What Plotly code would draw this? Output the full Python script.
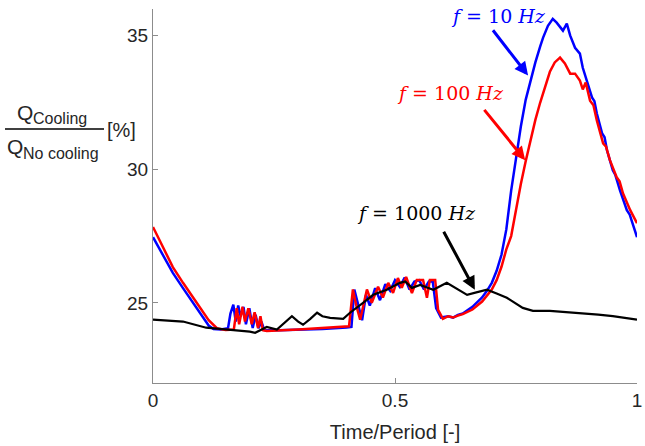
import plotly.graph_objects as go

# ---- data ----
t_10 = [0.000, 0.020, 0.041, 0.062, 0.083, 0.100, 0.115, 0.125, 0.140, 0.155,
        0.160, 0.166, 0.171, 0.176, 0.181, 0.187, 0.192, 0.199, 0.206, 0.212,
        0.218, 0.224, 0.230, 0.260, 0.300, 0.350, 0.400, 0.410, 0.416, 0.424,
        0.432, 0.440, 0.448, 0.459, 0.469, 0.480, 0.490, 0.500, 0.510, 0.520,
        0.530, 0.540, 0.550, 0.560, 0.570, 0.578, 0.585, 0.595, 0.610, 0.620,
        0.630, 0.640, 0.660, 0.680, 0.690, 0.700, 0.710, 0.720, 0.730, 0.740,
        0.750, 0.760, 0.770, 0.780, 0.790, 0.800, 0.806, 0.816, 0.826, 0.834,
        0.840, 0.847, 0.855, 0.862, 0.872, 0.882, 0.888, 0.896, 0.907, 0.912,
        0.917, 0.928, 0.933, 0.938, 0.950, 0.955, 0.965, 0.979, 0.985, 1.000]
q_10 = [27.46, 26.80, 26.12, 25.55, 25.00, 24.55, 24.15, 24.02, 24.00, 24.05,
        24.60, 24.93, 24.30, 24.90, 24.50, 24.85, 24.20, 24.80, 24.06, 24.55,
        24.05, 24.30, 23.98, 23.97, 23.98, 24.02, 24.08, 24.10, 25.50, 24.90,
        24.35, 25.30, 24.90, 25.55, 25.10, 25.70, 25.45, 25.85, 25.60, 25.95,
        25.50, 25.80, 25.85, 25.50, 25.80, 25.80, 24.80, 24.45, 24.50, 24.45,
        24.55, 24.60, 24.85, 25.20, 25.45, 25.75, 26.20, 26.80, 27.75, 29.20,
        30.40, 31.60, 32.60, 33.35, 34.00, 34.60, 34.93, 35.37, 35.63, 35.49,
        35.35, 35.19, 35.45, 35.00, 34.55, 34.33, 33.80, 33.32, 32.69, 32.55,
        32.09, 31.34, 31.20, 30.71, 29.96, 29.80, 29.20, 28.47, 28.30, 27.46]

t_100 = [0.000, 0.020, 0.041, 0.062, 0.083, 0.100, 0.115, 0.132, 0.150, 0.167,
         0.173, 0.178, 0.185, 0.190, 0.197, 0.204, 0.210, 0.217, 0.222, 0.227,
         0.235, 0.300, 0.350, 0.405, 0.413, 0.420, 0.428, 0.442, 0.452, 0.465,
         0.475, 0.486, 0.496, 0.506, 0.514, 0.523, 0.535, 0.545, 0.558, 0.566,
         0.572, 0.583, 0.589, 0.599, 0.610, 0.620, 0.630, 0.640, 0.660, 0.680,
         0.700, 0.710, 0.720, 0.730, 0.740, 0.750, 0.760, 0.770, 0.780, 0.790,
         0.800, 0.810, 0.820, 0.830, 0.841, 0.851, 0.862, 0.872, 0.882, 0.888,
         0.894, 0.903, 0.910, 0.917, 0.930, 0.936, 0.944, 0.958, 0.964, 0.971,
         0.986, 1.000]
q_100 = [27.84, 27.10, 26.34, 25.75, 25.20, 24.75, 24.35, 24.05, 23.98, 24.00,
         24.80, 24.20, 24.85, 24.30, 24.80, 24.20, 24.65, 24.06, 24.50, 23.98,
         23.95, 24.00, 24.05, 24.12, 25.50, 24.90, 24.37, 25.50, 25.00, 25.60,
         25.20, 25.75, 25.37, 25.93, 25.56, 25.97, 25.37, 25.86, 25.86, 25.19,
         25.86, 25.86, 24.74, 24.40, 24.50, 24.45, 24.52, 24.58, 24.75, 25.05,
         25.50, 25.85, 26.35, 27.00, 27.50, 28.50, 29.45, 30.30, 31.10, 31.85,
         32.50, 33.10, 33.65, 34.00, 34.18, 33.96, 33.58, 33.58, 33.32, 32.99,
         33.25, 32.57, 32.40, 31.83, 30.97, 30.85, 30.34, 29.70, 29.55, 29.10,
         28.47, 27.98]

t_1000 = [0.000, 0.062, 0.110, 0.153, 0.180, 0.200, 0.211, 0.222, 0.235, 0.256,
          0.272, 0.287, 0.300, 0.310, 0.325, 0.339, 0.350, 0.366, 0.393, 0.407,
          0.434, 0.455, 0.483, 0.510, 0.521, 0.535, 0.552, 0.579, 0.607, 0.630,
          0.649, 0.670, 0.690, 0.710, 0.731, 0.764, 0.785, 0.820, 0.850, 0.880,
          0.920, 0.950, 0.980, 1.000]
q_1000 = [24.37, 24.30, 24.07, 24.00, 23.97, 23.92, 23.88, 23.97, 24.10, 24.00,
          24.25, 24.50, 24.30, 24.18, 24.40, 24.63, 24.50, 24.44, 24.40, 24.63,
          25.00, 25.30, 25.49, 25.75, 25.80, 25.56, 25.67, 25.49, 25.75, 25.50,
          25.30, 25.40, 25.49, 25.35, 25.19, 24.81, 24.70, 24.70, 24.66, 24.63,
          24.56, 24.50, 24.42, 24.37]

x_ticks = [0, 0.5, 1]
x_ticktext = ["0", "0.5", "1"]
y_ticks = [25, 30, 35]
y_ticktext = ["25", "30", "35"]

AX = "#8c8c8c"
TXT = "#262626"
SANS = "Liberation Sans, Arial, sans-serif"
SERIF = "DejaVu Serif, serif"

fig = go.Figure()
fig.add_trace(go.Scatter(x=t_10, y=q_10, mode="lines",
                         line=dict(color="#0000ff", width=2.5), name="f = 10 Hz"))
fig.add_trace(go.Scatter(x=t_100, y=q_100, mode="lines",
                         line=dict(color="#ff0000", width=2.5), name="f = 100 Hz"))
fig.add_trace(go.Scatter(x=t_1000, y=q_1000, mode="lines",
                         line=dict(color="#000000", width=2.2), name="f = 1000 Hz"))

def px2paper(px, py):
    return (px - 153) / 484.0, (383 - py) / 374.0

ann = []
labels = [("<i>f</i> = 10 <i>Hz</i>", 0.714, 35.75, "#0000ff"),
          ("<i>f</i> = 100 <i>Hz</i>", 0.614, 32.84, "#ff0000"),
          ("<i>f</i> = 1000 <i>Hz</i>", 0.545, 28.36, "#000000")]
for txt, x, y, c in labels:
    ann.append(dict(x=x, y=y, xref="x", yref="y", text=txt, showarrow=False,
                    font=dict(family=SERIF, size=19, color=c),
                    xanchor="center", yanchor="middle"))
arrows = [(0.775, 33.51, 0.700, 35.26, "#0000ff"),
          (0.769, 30.34, 0.682, 32.28, "#ff0000"),
          (0.665, 25.49, 0.599, 27.72, "#000000")]
for hx, hy, tx, ty, c in arrows:
    ann.append(dict(x=hx, y=hy, ax=tx, ay=ty, xref="x", yref="y", axref="x", ayref="y",
                    text="", showarrow=True, arrowhead=2, arrowsize=0.9,
                    arrowwidth=3, arrowcolor=c, standoff=0, startstandoff=0))

def add_txt(txt, px, py, size):
    x, y = px2paper(px, py)
    ann.append(dict(x=x, y=y, xref="paper", yref="paper", text=txt, showarrow=False,
                    font=dict(family=SANS, size=size, color=TXT),
                    xanchor="center", yanchor="middle"))

add_txt("Q", 25, 112, 21)
add_txt("Cooling", 60, 119, 16)
add_txt("Q", 15, 146, 21)
add_txt("No cooling", 61, 153, 16)
add_txt("[%]", 121, 130, 20)

x0, y0 = px2paper(5, 129)
x1, _ = px2paper(104, 129)

fig.update_layout(
    width=645, height=446,
    margin=dict(l=153, r=8, t=9, b=63, autoexpand=False),
    plot_bgcolor="white", paper_bgcolor="white",
    showlegend=False,
    annotations=ann,
    shapes=[dict(type="line", xref="paper", yref="paper", x0=x0, x1=x1, y0=y0, y1=y0,
                 line=dict(color="#000000", width=1.5))],
    font=dict(family=SANS, color=TXT),
)
fig.update_xaxes(range=[0, 1], tickvals=x_ticks, ticktext=x_ticktext,
                 ticks="inside", ticklen=5, tickcolor=AX, showline=True, linecolor=AX,
                 linewidth=1, showgrid=False, zeroline=False, automargin=False,
                 tickfont=dict(size=19, color=TXT, family=SANS),
                 title=dict(text="Time/Period [-]", font=dict(size=20, color=TXT, family=SANS), standoff=15))
fig.update_yaxes(range=[22, 36], tickvals=y_ticks, ticktext=y_ticktext,
                 ticks="inside", ticklen=5, tickcolor=AX, showline=True, linecolor=AX,
                 linewidth=1, showgrid=False, zeroline=False, automargin=False,
                 tickfont=dict(size=19, color=TXT, family=SANS))

fig.write_html("out.html", config={"displayModeBar": False},
               post_script="document.body.style.margin='0px';document.body.style.overflow='hidden';")
